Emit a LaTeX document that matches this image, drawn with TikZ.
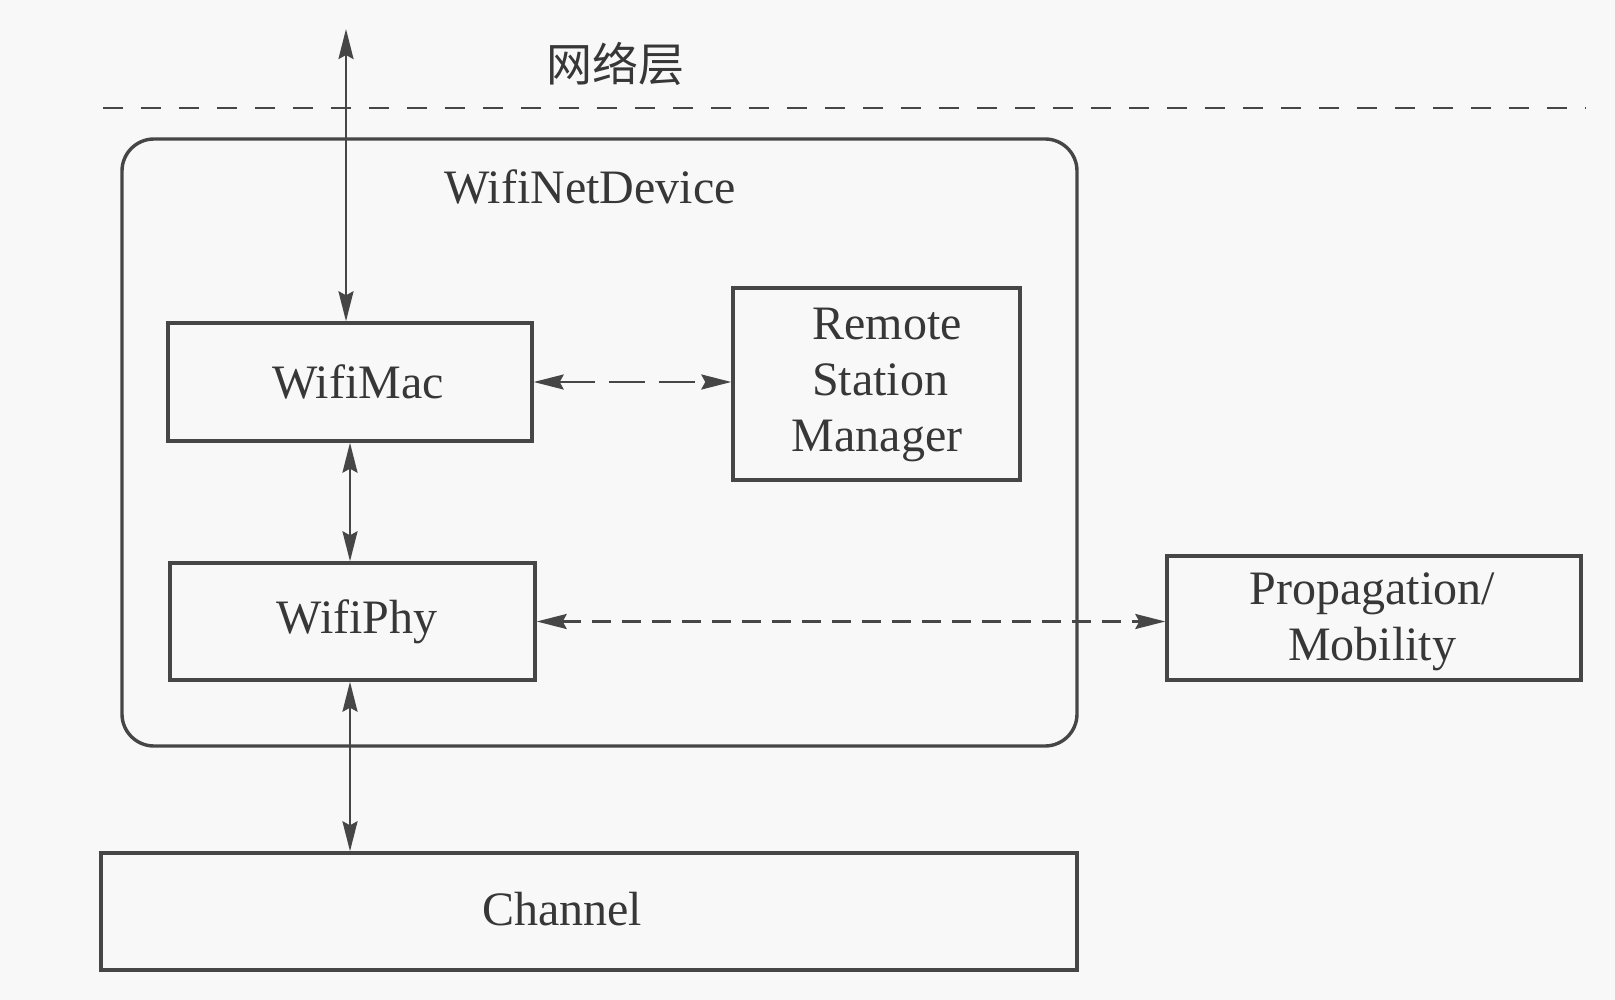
\documentclass[tikz,border=0pt]{standalone}
\usepackage{fontspec}
\setmainfont{Liberation Serif}
\newfontfamily\cjk{Noto Sans CJK SC}
\usetikzlibrary{arrows.meta}
\definecolor{ink}{RGB}{70,70,70}
\definecolor{txt}{RGB}{55,55,55}
\definecolor{bg}{RGB}{248,248,248}
\tikzset{
  box/.style={draw=ink, line width=3.4pt, inner sep=0pt},
  conn/.style={draw=ink, line width=2.6pt, {Stealth[length=30pt,width=15pt,inset=4pt]}-{Stealth[length=30pt,width=15pt,inset=4pt]}},
  lbl/.style={text=txt, inner sep=0pt, align=center, font=\fontsize{48}{56}\selectfont},
}
\begin{document}
\begin{tikzpicture}[x=1pt,y=-1pt]
\path[fill=bg] (0,0) rectangle (1615,1000);
\useasboundingbox (0,0) rectangle (1615,1000);
% separation line
\coordinate (dl) at (103,108);
\coordinate (dr) at (1586,108);
\draw[ink, line width=2.8pt, dash pattern=on 20pt off 18pt] (dl) -- (dr);
\node[lbl, font=\cjk\fontsize{46}{50}\selectfont] (net) at (615,64) {网络层};
% device
\node[box, rounded corners=32pt, minimum width=955pt, minimum height=607pt] (dev) at (599.5,442.5) {};
\node[lbl] (devlbl) at (590,187) {WifiNetDevice};
% boxes
\node[box, minimum width=364pt, minimum height=118pt] (mac) at (350,382) {};
\node[lbl] (mactxt) at (358,382) {WifiMac};
\node[box, minimum width=287pt, minimum height=192pt] (rsm) at (876.5,384) {};
\node[lbl] (rsmtxt) at (880,385) {\hspace*{14pt}Remote\\Station\\Manager\hspace*{6pt}};
\node[box, minimum width=365pt, minimum height=117pt] (phy) at (352.5,621.5) {};
\node[lbl] (phytxt) at (357,621.5) {WifiPhy};
\node[box, minimum width=414pt, minimum height=124pt] (prop) at (1374,618) {};
\node[lbl] (proptxt) at (1372,622) {Propagation/\\Mobility};
\node[box, minimum width=976pt, minimum height=117pt] (chan) at (589,911.5) {};
\node[lbl] (chantxt) at (562,909) {Channel};
% connectors
\coordinate (nettop) at (346,29);
\coordinate (ax) at (350,0);
\draw[conn] (nettop) -- (nettop |- mac.north);
\draw[conn] (ax |- mac.south) -- (ax |- phy.north);
\draw[conn] (ax |- phy.south) -- (ax |- chan.north);
\draw[conn, dash pattern=on 36pt off 14pt] (mac.east) -- (rsm.west |- mac.east);
\draw[conn, dash pattern=on 19pt off 11pt] (phy.east) -- (prop.west |- phy.east);
\end{tikzpicture}
\end{document}
